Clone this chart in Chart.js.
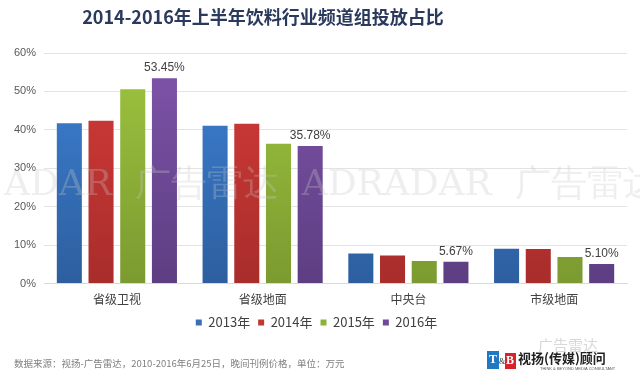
<!DOCTYPE html>
<html>
<head>
<meta charset="utf-8">
<script src="https://cdn.jsdelivr.net/npm/chart.js@4.4.0/dist/chart.umd.min.js"></script>
<style>
html,body{margin:0;padding:0;background:#fff;}
#wrap{width:640px;height:383px;position:relative;}
</style>
</head>
<body>
<div id="wrap"><canvas id="c" width="640" height="383"></canvas></div>
<script>
const categories = ['省级卫视', '省级地面', '中央台', '市级地面'];
const seriesNames = ['2013年', '2014年', '2015年', '2016年'];
const v2013 = [41.7, 41.1, 7.8, 9.1];
const v2014 = [42.4, 41.6, 7.3, 9.0];
const v2015 = [50.6, 36.4, 5.9, 6.9];
const v2016 = [53.45, 35.78, 5.67, 5.10];
const yTicks = [0, 10, 20, 30, 40, 50, 60];
const titleText = '2014-2016年上半年饮料行业频道组投放占比';
const sourceText = '数据来源：视扬-广告雷达，2010-2016年6月25日，晚间刊例价格，单位：万元';
const watermarkText = 'ADAR  广告雷达  ADRADAR  广告雷达';

const topColors = ['#3d80d4', '#d43b38', '#9ec53f', '#7f54aa'];
const botColors = ['#2d5f9f', '#a82d2b', '#7b9a30', '#5d3e82'];
const legendColors = ['#3a6fb8', '#c0392f', '#8db23a', '#6f4a98'];

function grad(ctx, i) {
  const chart = ctx.chart;
  const a = chart.chartArea;
  if (!a) return topColors[i];
  const g = chart.ctx.createLinearGradient(0, a.top, 0, a.bottom);
  g.addColorStop(0, topColors[i]);
  g.addColorStop(1, botColors[i]);
  return g;
}

const allSeries = [v2013, v2014, v2015, v2016];

const extras = {
  id: 'extras',
  afterDatasetsDraw(chart) {
    const ctx = chart.ctx;
    const meta = chart.getDatasetMeta(3);
    ctx.save();
    ctx.font = '12px "Liberation Sans", Arial, sans-serif';
    ctx.fillStyle = '#404040';
    ctx.textAlign = 'center';
    ctx.textBaseline = 'bottom';
    meta.data.forEach((bar, i) => {
      ctx.fillText(v2016[i].toFixed(2) + '%', bar.x, bar.y - 4);
    });
    ctx.restore();
  },
  afterDraw(chart) {
    const ctx = chart.ctx;
    ctx.save();
    // title
    ctx.font = 'bold 18px "Noto Sans CJK SC", sans-serif';
    ctx.fillStyle = '#2b3a5c';
    ctx.textAlign = 'center';
    ctx.textBaseline = 'middle';
    ctx.fillText(titleText, 263, 17);
    // watermark
    ctx.font = '36px "DejaVu Serif", "Liberation Serif", serif';
    ctx.fillStyle = 'rgba(200,200,200,0.3)';
    ctx.textBaseline = 'middle';
    ctx.textAlign = 'left';
    ctx.fillText(watermarkText, 4, 186);
    // source
    ctx.font = '9.5px "Noto Sans CJK SC", sans-serif';
    ctx.fillStyle = '#7f7f7f';
    ctx.textBaseline = 'middle';
    ctx.fillText(sourceText, 14, 363);
    // logo
    ctx.fillStyle = '#1f78c1';
    ctx.fillRect(487, 351, 12, 18);
    ctx.fillStyle = '#d8232a';
    ctx.fillRect(505, 353, 11, 16);
    ctx.font = 'bold 12px "Liberation Serif", serif';
    ctx.fillStyle = '#ffffff';
    ctx.textAlign = 'center';
    ctx.fillText('T', 493, 360);
    ctx.fillText('B', 510, 361);
    ctx.fillStyle = '#333';
    ctx.font = '8px "Liberation Serif", serif';
    ctx.fillText('&', 502, 362);
    ctx.textAlign = 'left';
    ctx.font = 'bold 13px "Noto Sans CJK SC", serif';
    ctx.fillStyle = '#222';
    ctx.fillText('视扬(传媒)顾问', 518, 358);
    ctx.font = '4px "Liberation Sans", sans-serif';
    ctx.fillStyle = '#555';
    ctx.fillText('THINK & BEYOND MEDIA CONSULTANT', 540, 369);
    ctx.font = '15px "Noto Sans CJK SC", sans-serif';
    ctx.fillStyle = 'rgba(190,190,190,0.6)';
    ctx.fillText('广告雷达', 538, 345);
    ctx.restore();
  }
};

new Chart(document.getElementById('c'), {
  type: 'bar',
  data: {
    labels: categories,
    datasets: allSeries.map((vals, i) => ({
      label: seriesNames[i],
      data: vals,
      backgroundColor: (ctx) => grad(ctx, i),
      borderWidth: 0,
      categoryPercentage: 0.87,
      barPercentage: 0.79
    }))
  },
  options: {
    responsive: false,
    animation: false,
    devicePixelRatio: 1,
    layout: { padding: { left: 6, right: 13, top: 53, bottom: 44 } },
    plugins: {
      title: { display: false },
      legend: {
        position: 'bottom',
        labels: {
          generateLabels(chart) {
            return seriesNames.map((n, i) => ({
              text: n, fillStyle: legendColors[i], strokeStyle: legendColors[i],
              lineWidth: 0, datasetIndex: i, fontColor: '#404040'
            }));
          },
          boxWidth: 6, boxHeight: 6, padding: 8,
          color: '#404040',
          font: { size: 13, family: '"Noto Sans CJK SC", sans-serif' }
        }
      },
      tooltip: { enabled: false }
    },
    scales: {
      x: {
        grid: { display: false },
        border: { display: true, color: '#d9d9d9' },
        ticks: { color: '#404040', font: { size: 12, family: '"Noto Sans CJK SC", sans-serif' }, padding: 1 }
      },
      y: {
        min: 0, max: 60,
        afterBuildTicks(scale) { scale.ticks = yTicks.map(v => ({ value: v })); },
        grid: { color: '#e3e3e3', drawTicks: false },
        border: { display: false },
        ticks: {
          color: '#595959', padding: 8,
          font: { size: 11, family: '"Liberation Sans", Arial, sans-serif' },
          callback: (v) => v + '%'
        }
      }
    }
  },
  plugins: [extras]
});
</script>
</body>
</html>
